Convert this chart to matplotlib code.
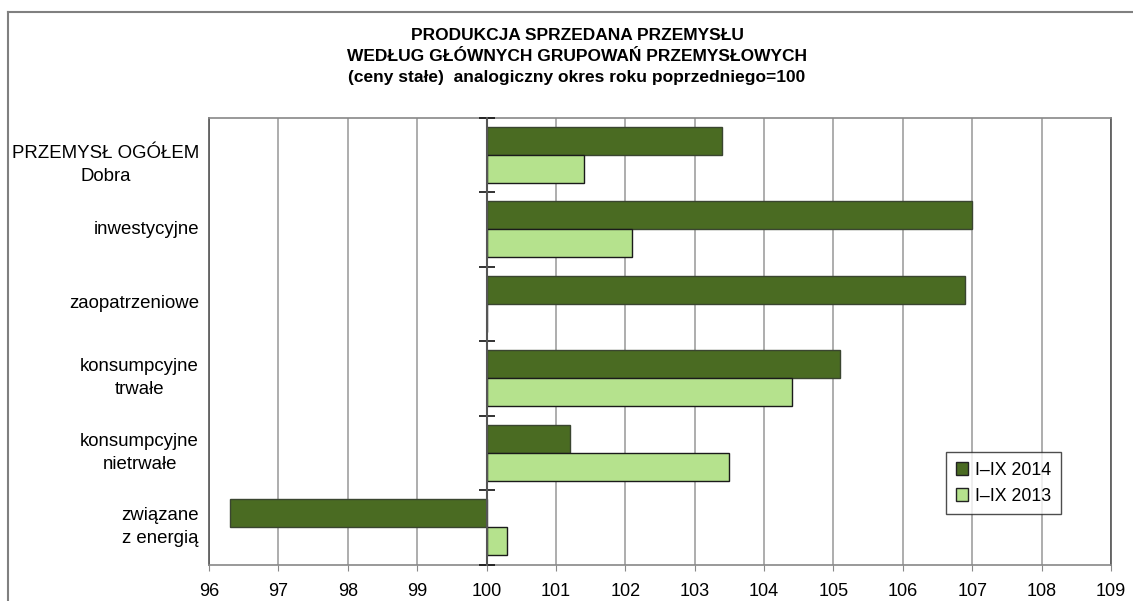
import matplotlib
matplotlib.use("Agg")
import matplotlib.pyplot as plt
import numpy as np
from matplotlib.lines import Line2D
from matplotlib.patches import Patch
import matplotlib.transforms as mtransforms

plt.rcParams['font.family'] = ['Liberation Sans', 'DejaVu Sans']

categories = ["PRZEMYSŁ OGÓŁEM\nDobra", "inwestycyjne", "zaopatrzeniowe",
              "konsumpcyjne\ntrwałe", "konsumpcyjne\nnietrwałe", "związane\nz energią"]
series_names = ["I–IX 2014", "I–IX 2013"]
values_2014 = [103.4, 107.0, 106.9, 105.1, 101.2, 96.3]
values_2013 = [101.4, 102.1, 100.0, 104.4, 103.5, 100.3]
x_ticks = list(range(96, 110))
title = ("PRODUKCJA SPRZEDANA PRZEMYSŁU\nWEDŁUG GŁÓWNYCH GRUPOWAŃ PRZEMYSŁOWYCH\n"
         "(ceny stałe)  analogiczny okres roku poprzedniego=100")

dark = "#4a6b22"
light = "#b5e28d"

W, H = 1133, 601
fig = plt.figure(figsize=(W / 100, H / 100), dpi=100)
ax = fig.add_axes([209 / W, 1 - 564.5 / H, (1111 - 209) / W, (564.5 - 117.7) / H])

n = len(categories)
y = np.arange(n)
bh = 0.375
base = 100
ax.barh(y - bh / 2, np.array(values_2014) - base, left=base, height=bh, color=dark,
        edgecolor="#3a4530", linewidth=1.0, zorder=3, label=series_names[0])
ax.barh(y + bh / 2, np.array(values_2013) - base, left=base, height=bh, color=light,
        edgecolor="#1a1a1a", linewidth=1.0, zorder=3, label=series_names[1])

ax.set_xlim(96, 109)
ax.set_ylim(n - 0.5, -0.5)
ax.set_xticks(x_ticks)
ax.set_xticklabels([str(v) for v in x_ticks], fontsize=13)
ax.tick_params(axis='x', length=4, color="#888888", pad=9)
ax.grid(axis='x', color="#a0a0a0", linewidth=1.2, zorder=0)
ax.set_yticks([])

for s in ['top', 'bottom']:
    ax.spines[s].set_color("#888888")
    ax.spines[s].set_linewidth(1.2)
for s in ['left', 'right']:
    ax.spines[s].set_color("#555555")
    ax.spines[s].set_linewidth(1.2)

# value axis at 100 with group-boundary ticks
sec = ax.secondary_yaxis((base - 96) / (109 - 96))
sec.set_zorder(5)
sec.set_yticks(np.arange(-0.5, n, 1.0))
sec.set_yticklabels([])
sec.tick_params(direction='inout', length=12, width=1.2, color="#111111")
sec.spines['left'].set_color("#555555")
sec.spines['left'].set_linewidth(1.5)

trans = mtransforms.blended_transform_factory(ax.transAxes, ax.transData)
for i, lab in enumerate(categories):
    off = 0.14 if i == 0 else 0.0
    ax.text(-10 / (1111 - 209), i + off, lab, transform=trans, ha='right', va='center',
            multialignment='center', fontsize=13.4, linespacing=1.45)

handles = [Patch(facecolor=dark, edgecolor="#222222", linewidth=1.0),
           Patch(facecolor=light, edgecolor="#222222", linewidth=1.0)]
leg = ax.legend(handles, series_names, loc='upper left',
                bbox_to_anchor=((946 - 209) / (1111 - 209), 1 - (452 - 117.7) / (564.5 - 117.7)),
                fontsize=12.8, frameon=True, fancybox=False, handlelength=0.7, handleheight=0.7,
                handletextpad=0.4, borderpad=0.55, labelspacing=0.5, borderaxespad=0)
leg.get_frame().set_edgecolor("#222222")
leg.get_frame().set_linewidth(1.0)

fig.text(577 / W, 1 - 56.5 / H, title, ha='center', va='center', fontsize=12.5,
         fontweight='bold', linespacing=1.47)

# outer frame
fig.add_artist(Line2D([8 / W, 1.0], [1 - 12 / H, 1 - 12 / H], color="#808080", linewidth=1.5))
fig.add_artist(Line2D([8 / W, 8 / W], [1 - 12 / H, 0.0], color="#808080", linewidth=1.5))

fig.savefig("out.png", dpi=100)
